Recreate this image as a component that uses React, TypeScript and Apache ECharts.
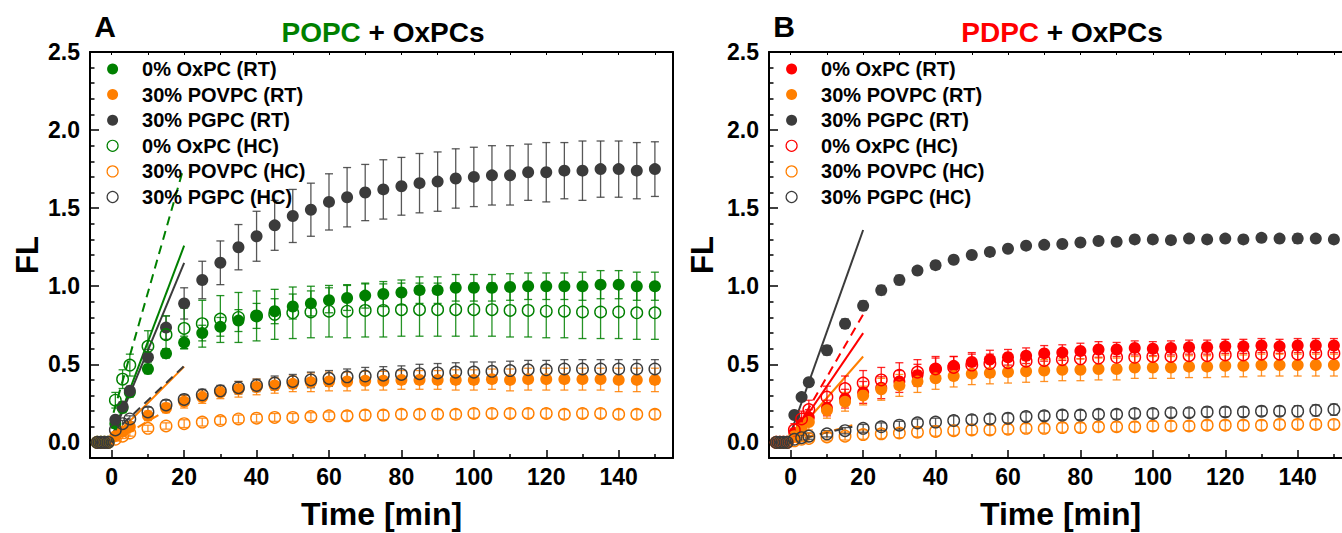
import React, { useEffect, useRef } from 'react';
import * as echarts from 'echarts';

// ---------- data ----------
const BASE_T = [-4, -3, -2, -1];
const TIME = [1, 3, 5, 10, 15, 20, 25, 30, 35, 40, 45, 50, 55, 60, 65, 70, 75, 80, 85, 90, 95, 100, 105, 110, 115, 120, 125, 130, 135, 140, 145, 150];
const X_MAJOR = [0, 20, 40, 60, 80, 100, 120, 140];
const X_MINOR = [10, 30, 50, 70, 90, 110, 130, 150];
const X_TOP = [0, 10, 20, 30, 40, 50, 60, 70, 80, 90, 100, 110, 120, 130, 140, 150];
const Y_MAJOR = [0, 0.5, 1.0, 1.5, 2.0, 2.5];
const Y_MINOR = [0.1, 0.2, 0.3, 0.4, 0.6, 0.7, 0.8, 0.9, 1.1, 1.2, 1.3, 1.4, 1.6, 1.7, 1.8, 1.9, 2.1, 2.2, 2.3, 2.4];
const LEGEND_NAMES = ['0% OxPC (RT)', '30% POVPC (RT)', '30% PGPC (RT)', '0% OxPC (HC)', '30% POVPC (HC)', '30% PGPC (HC)'];

// Panel A: POPC + OxPCs
const A_OX_RT = [0.12, 0.22, 0.32, 0.47, 0.57, 0.64, 0.70, 0.74, 0.78, 0.81, 0.84, 0.87, 0.89, 0.91, 0.925, 0.94, 0.95, 0.96, 0.975, 0.975, 0.99, 0.99, 0.99, 0.995, 1.0, 1.0, 1.0, 1.0, 1.01, 1.01, 1.0, 1.0];
const A_OX_RT_ERR = [0.03, 0.03, 0.03, 0.03, 0.03, 0.04, 0.05, 0.06, 0.07, 0.08, 0.08, 0.08, 0.08, 0.08, 0.08, 0.08, 0.08, 0.08, 0.085, 0.085, 0.085, 0.085, 0.085, 0.085, 0.085, 0.085, 0.085, 0.09, 0.09, 0.09, 0.09, 0.09];
const A_POV_RT = [0.04, 0.07, 0.10, 0.17, 0.22, 0.26, 0.29, 0.32, 0.34, 0.355, 0.365, 0.375, 0.385, 0.39, 0.39, 0.395, 0.395, 0.40, 0.40, 0.40, 0.40, 0.40, 0.405, 0.40, 0.405, 0.405, 0.405, 0.405, 0.405, 0.40, 0.40, 0.40];
const A_POV_RT_ERR = [0.02, 0.02, 0.03, 0.03, 0.03, 0.04, 0.04, 0.04, 0.05, 0.05, 0.05, 0.05, 0.06, 0.06, 0.06, 0.06, 0.06, 0.06, 0.06, 0.06, 0.065, 0.065, 0.065, 0.07, 0.07, 0.07, 0.07, 0.07, 0.07, 0.075, 0.075, 0.075];
const A_PG_RT = [0.145, 0.23, 0.33, 0.545, 0.735, 0.89, 1.04, 1.15, 1.25, 1.32, 1.39, 1.45, 1.49, 1.54, 1.57, 1.60, 1.62, 1.64, 1.66, 1.67, 1.69, 1.70, 1.71, 1.71, 1.73, 1.73, 1.74, 1.74, 1.75, 1.75, 1.74, 1.75];
const A_PG_RT_ERR = [0.02, 0.03, 0.03, 0.05, 0.075, 0.10, 0.12, 0.14, 0.145, 0.16, 0.16, 0.17, 0.17, 0.18, 0.19, 0.18, 0.19, 0.185, 0.19, 0.19, 0.19, 0.19, 0.19, 0.19, 0.18, 0.19, 0.18, 0.19, 0.18, 0.18, 0.18, 0.175];
const A_OX_HC = [0.27, 0.405, 0.495, 0.615, 0.69, 0.73, 0.76, 0.79, 0.80, 0.81, 0.82, 0.83, 0.835, 0.84, 0.84, 0.845, 0.845, 0.85, 0.85, 0.85, 0.85, 0.85, 0.85, 0.845, 0.845, 0.84, 0.84, 0.835, 0.835, 0.835, 0.83, 0.83];
const A_OX_HC_ERR = [0.05, 0.06, 0.07, 0.10, 0.12, 0.13, 0.15, 0.15, 0.16, 0.16, 0.16, 0.165, 0.165, 0.165, 0.17, 0.17, 0.17, 0.17, 0.17, 0.17, 0.17, 0.17, 0.17, 0.17, 0.17, 0.17, 0.17, 0.17, 0.17, 0.17, 0.17, 0.17];
const A_POV_HC = [0.02, 0.04, 0.06, 0.09, 0.105, 0.12, 0.13, 0.14, 0.15, 0.155, 0.16, 0.16, 0.165, 0.17, 0.17, 0.175, 0.175, 0.18, 0.18, 0.18, 0.18, 0.185, 0.185, 0.185, 0.185, 0.185, 0.18, 0.185, 0.185, 0.18, 0.18, 0.18];
const A_POV_HC_ERR = [0.01, 0.015, 0.02, 0.02, 0.02, 0.025, 0.025, 0.025, 0.025, 0.025, 0.025, 0.025, 0.025, 0.025, 0.03, 0.03, 0.03, 0.03, 0.03, 0.03, 0.03, 0.03, 0.03, 0.03, 0.03, 0.03, 0.03, 0.03, 0.03, 0.03, 0.03, 0.03];
const A_PG_HC = [0.08, 0.12, 0.15, 0.195, 0.24, 0.275, 0.305, 0.33, 0.35, 0.365, 0.38, 0.39, 0.40, 0.41, 0.42, 0.425, 0.43, 0.435, 0.44, 0.445, 0.45, 0.45, 0.455, 0.46, 0.465, 0.465, 0.47, 0.47, 0.47, 0.47, 0.47, 0.47];
const A_PG_HC_ERR = [0.02, 0.02, 0.02, 0.03, 0.03, 0.03, 0.035, 0.035, 0.04, 0.04, 0.045, 0.045, 0.05, 0.05, 0.05, 0.055, 0.055, 0.055, 0.06, 0.06, 0.06, 0.065, 0.06, 0.06, 0.06, 0.06, 0.06, 0.06, 0.06, 0.06, 0.06, 0.06];

// Panel B: PDPC + OxPCs
const B_OX_RT = [0.06, 0.12, 0.16, 0.22, 0.28, 0.32, 0.35, 0.39, 0.43, 0.47, 0.49, 0.515, 0.53, 0.545, 0.555, 0.57, 0.575, 0.585, 0.595, 0.595, 0.605, 0.60, 0.605, 0.61, 0.61, 0.615, 0.615, 0.62, 0.615, 0.62, 0.62, 0.62];
const B_OX_RT_ERR = [0.03, 0.04, 0.05, 0.05, 0.06, 0.07, 0.07, 0.07, 0.07, 0.07, 0.06, 0.06, 0.06, 0.05, 0.05, 0.05, 0.05, 0.05, 0.05, 0.045, 0.045, 0.045, 0.045, 0.045, 0.045, 0.045, 0.045, 0.045, 0.045, 0.045, 0.045, 0.045];
const B_POV_RT = [0.04, 0.09, 0.13, 0.205, 0.26, 0.30, 0.34, 0.365, 0.39, 0.41, 0.425, 0.44, 0.445, 0.45, 0.455, 0.46, 0.465, 0.465, 0.47, 0.47, 0.48, 0.48, 0.48, 0.485, 0.485, 0.49, 0.49, 0.495, 0.495, 0.495, 0.495, 0.495];
const B_POV_RT_ERR = [0.03, 0.04, 0.05, 0.05, 0.06, 0.06, 0.07, 0.07, 0.07, 0.07, 0.07, 0.07, 0.07, 0.07, 0.07, 0.07, 0.07, 0.07, 0.07, 0.07, 0.07, 0.07, 0.07, 0.07, 0.07, 0.07, 0.07, 0.07, 0.07, 0.07, 0.07, 0.07];
const B_PG_RT = [0.175, 0.29, 0.385, 0.59, 0.76, 0.875, 0.975, 1.04, 1.10, 1.135, 1.17, 1.20, 1.22, 1.24, 1.26, 1.265, 1.27, 1.28, 1.29, 1.285, 1.30, 1.30, 1.295, 1.305, 1.30, 1.305, 1.30, 1.31, 1.305, 1.305, 1.305, 1.30];
const B_PG_RT_ERR = [0.02, 0.02, 0.02, 0.03, 0.03, 0.03, 0.03, 0.03, 0.025, 0.025, 0.025, 0.02, 0.02, 0.02, 0.02, 0.02, 0.02, 0.025, 0.025, 0.025, 0.025, 0.025, 0.025, 0.025, 0.025, 0.025, 0.025, 0.025, 0.025, 0.03, 0.025, 0.025];
const B_OX_HC = [0.08, 0.15, 0.21, 0.29, 0.345, 0.38, 0.40, 0.43, 0.45, 0.47, 0.48, 0.495, 0.505, 0.51, 0.52, 0.525, 0.53, 0.535, 0.54, 0.545, 0.545, 0.55, 0.55, 0.555, 0.555, 0.56, 0.56, 0.565, 0.565, 0.565, 0.57, 0.57];
const B_OX_HC_ERR = [0.04, 0.05, 0.06, 0.07, 0.08, 0.08, 0.08, 0.08, 0.08, 0.08, 0.07, 0.07, 0.06, 0.06, 0.06, 0.05, 0.05, 0.05, 0.05, 0.05, 0.05, 0.05, 0.05, 0.05, 0.05, 0.05, 0.05, 0.05, 0.05, 0.05, 0.05, 0.05];
const B_POV_HC = [0.01, 0.02, 0.025, 0.035, 0.04, 0.05, 0.055, 0.06, 0.065, 0.07, 0.075, 0.08, 0.08, 0.085, 0.09, 0.09, 0.095, 0.095, 0.10, 0.10, 0.10, 0.105, 0.105, 0.105, 0.11, 0.11, 0.11, 0.11, 0.115, 0.115, 0.115, 0.115];
const B_POV_HC_ERR = [0.01, 0.015, 0.02, 0.025, 0.025, 0.03, 0.03, 0.03, 0.03, 0.03, 0.03, 0.03, 0.03, 0.03, 0.03, 0.03, 0.03, 0.03, 0.03, 0.03, 0.03, 0.03, 0.03, 0.03, 0.03, 0.03, 0.03, 0.03, 0.03, 0.03, 0.03, 0.03];
const B_PG_HC = [0.02, 0.03, 0.04, 0.055, 0.075, 0.09, 0.10, 0.11, 0.125, 0.13, 0.14, 0.145, 0.15, 0.155, 0.165, 0.17, 0.175, 0.175, 0.18, 0.18, 0.185, 0.185, 0.19, 0.19, 0.195, 0.195, 0.195, 0.20, 0.20, 0.20, 0.205, 0.21];
const B_PG_HC_ERR = [0.01, 0.015, 0.02, 0.02, 0.02, 0.025, 0.025, 0.025, 0.025, 0.025, 0.03, 0.03, 0.03, 0.03, 0.03, 0.03, 0.03, 0.03, 0.03, 0.03, 0.03, 0.03, 0.03, 0.03, 0.03, 0.03, 0.03, 0.03, 0.03, 0.035, 0.035, 0.035];

// Initial-rate fit lines: [[t0, FL0], [t1, FL1]]
const FIT_A_OX_RT = [[0, 0.03], [20, 1.26]];
const FIT_A_POV_RT = [[0, 0.02], [20, 0.485]];
const FIT_A_PG_RT = [[0, 0.03], [20, 1.15]];
const FIT_A_OX_HC = [[0.5, 0.19], [19.5, 1.73]];
const FIT_A_POV_HC = [[0, 0.0], [17, 0.23]];
const FIT_A_PG_HC = [[0, 0.05], [20, 0.49]];
const FIT_B_OX_RT = [[0, 0.02], [20, 0.70]];
const FIT_B_POV_RT = [[0, 0.02], [20, 0.55]];
const FIT_B_PG_RT = [[0, 0.06], [20, 1.36]];
const FIT_B_OX_HC = [[0, 0.02], [20, 0.82]];
const FIT_B_POV_HC = [[0, 0.0], [17, 0.11]];
const FIT_B_PG_HC = [[0, 0.01], [17, 0.10]];

// ---------- styles ----------
const GREEN = '#008000';
const ORANGE = '#ff7f00';
const DARK = '#3b3b3b';
const RED = '#ff0000';
const FONT = '"Liberation Sans", Arial, Helvetica, sans-serif';

const GRID_W = 583;
const GRID_H = 406;
const GRID_TOP = 52;
const PANELS = [
  {
    left: 90,
    colors: [GREEN, ORANGE, DARK, GREEN, ORANGE, DARK],
    values: [A_OX_RT, A_POV_RT, A_PG_RT, A_OX_HC, A_POV_HC, A_PG_HC],
    errors: [A_OX_RT_ERR, A_POV_RT_ERR, A_PG_RT_ERR, A_OX_HC_ERR, A_POV_HC_ERR, A_PG_HC_ERR],
    fits: [FIT_A_OX_RT, FIT_A_POV_RT, FIT_A_PG_RT, FIT_A_OX_HC, FIT_A_POV_HC, FIT_A_PG_HC],
    nameGap: 47,
  },
  {
    left: 769,
    colors: [RED, ORANGE, DARK, RED, ORANGE, DARK],
    values: [B_OX_RT, B_POV_RT, B_PG_RT, B_OX_HC, B_POV_HC, B_PG_HC],
    errors: [B_OX_RT_ERR, B_POV_RT_ERR, B_PG_RT_ERR, B_OX_HC_ERR, B_POV_HC_ERR, B_PG_HC_ERR],
    fits: [FIT_B_OX_RT, FIT_B_POV_RT, FIT_B_PG_RT, FIT_B_OX_HC, FIT_B_POV_HC, FIT_B_PG_HC],
    nameGap: 51,
  },
];

function buildOption() {
  const grid: any[] = [];
  const xAxis: any[] = [];
  const yAxis: any[] = [];
  const series: any[] = [];
  const legend: any[] = [];

  const axisLine = { show: true, onZero: false, lineStyle: { color: '#000', width: 2 } };
  const tickStyle = { color: '#000', width: 1.5 };
  const labelStyle = { color: '#000', fontSize: 23, fontWeight: 'bold', fontFamily: FONT };

  PANELS.forEach((p, pi) => {
    grid.push({ left: p.left, top: GRID_TOP, width: GRID_W, height: GRID_H, outerBoundsMode: 'none', containLabel: false });
    const xBase = xAxis.length;
    const yBase = yAxis.length;
    // bottom major
    xAxis.push({
      type: 'value', gridIndex: pi, min: -6, max: 155, position: 'bottom',
      axisLine, splitLine: { show: false },
      axisTick: { show: true, inside: true, length: 8, customValues: X_MAJOR, lineStyle: tickStyle },
      axisLabel: { show: true, customValues: X_MAJOR, margin: 7, ...labelStyle },
      name: 'Time [min]', nameLocation: 'middle', nameGap: 40,
      nameTextStyle: { color: '#000', fontSize: 32, fontWeight: 'bold', fontFamily: FONT },
    });
    // bottom minor
    xAxis.push({
      type: 'value', gridIndex: pi, min: -6, max: 155, position: 'bottom',
      axisLine: { show: false, onZero: false }, splitLine: { show: false },
      axisTick: { show: true, inside: true, length: 4, customValues: X_MINOR, lineStyle: tickStyle },
      axisLabel: { show: false },
    });
    // top
    xAxis.push({
      type: 'value', gridIndex: pi, min: -6, max: 155, position: 'top',
      axisLine, splitLine: { show: false },
      axisTick: { show: true, inside: true, length: 3, customValues: X_TOP, lineStyle: { color: '#000', width: 1 } },
      axisLabel: { show: false },
    });
    // left major
    yAxis.push({
      type: 'value', gridIndex: pi, min: -0.1, max: 2.5, position: 'left',
      axisLine, splitLine: { show: false },
      axisTick: { show: true, inside: true, length: 9, customValues: Y_MAJOR, lineStyle: tickStyle },
      axisLabel: { show: true, customValues: Y_MAJOR, margin: 10, formatter: (v: number) => v.toFixed(1), ...labelStyle },
      name: 'FL', nameLocation: 'middle', nameGap: p.nameGap, nameRotate: 90,
      nameTextStyle: { color: '#000', fontSize: 31, fontWeight: 'bold', fontFamily: FONT },
    });
    // left minor
    yAxis.push({
      type: 'value', gridIndex: pi, min: -0.1, max: 2.5, position: 'left',
      axisLine: { show: false, onZero: false }, splitLine: { show: false },
      axisTick: { show: true, inside: true, length: 4.5, customValues: Y_MINOR, lineStyle: tickStyle },
      axisLabel: { show: false },
    });
    // right
    yAxis.push({
      type: 'value', gridIndex: pi, min: -0.1, max: 2.5, position: 'right',
      axisLine, splitLine: { show: false },
      axisTick: { show: false }, axisLabel: { show: false },
    });

    // fit lines (drawn beneath markers)
    p.fits.forEach((f, si) => {
      const dashed = si >= 3;
      series.push({
        type: 'line', name: `fit-${pi}-${si}`, xAxisIndex: xBase, yAxisIndex: yBase,
        data: f, showSymbol: false, symbol: 'none', silent: true, z: 1,
        lineStyle: { color: p.colors[si], width: 2, type: dashed ? [9, 6] : 'solid' },
      });
    });

    // error bars + markers
    p.values.forEach((vals, si) => {
      const color = p.colors[si];
      const errs = p.errors[si];
      const filled = si < 3;
      const errData: number[][] = [];
      BASE_T.forEach((t) => errData.push([t, -0.012, 0.012]));
      TIME.forEach((t, i) => errData.push([t, vals[i] - errs[i], vals[i] + errs[i]]));
      series.push({
        type: 'custom', name: `err-${pi}-${si}`, xAxisIndex: xBase, yAxisIndex: yBase,
        data: errData, silent: true, z: 2,
        encode: { x: 0, y: [1, 2] },
        renderItem: (params: any, api: any) => {
          const x = api.value(0);
          const a = api.coord([x, api.value(1)]);
          const b = api.coord([x, api.value(2)]);
          const w = 4;
          const style = { stroke: color, lineWidth: 1.3, opacity: 0.85 };
          return {
            type: 'group',
            children: [
              { type: 'line', shape: { x1: a[0], y1: a[1], x2: b[0], y2: b[1] }, style },
              { type: 'line', shape: { x1: a[0] - w, y1: a[1], x2: a[0] + w, y2: a[1] }, style },
              { type: 'line', shape: { x1: b[0] - w, y1: b[1], x2: b[0] + w, y2: b[1] }, style },
            ],
          };
        },
      });
      const pts: number[][] = [];
      BASE_T.forEach((t) => pts.push([t, 0]));
      TIME.forEach((t, i) => pts.push([t, vals[i]]));
      series.push({
        type: 'scatter', name: LEGEND_NAMES[si], xAxisIndex: xBase, yAxisIndex: yBase,
        data: pts, symbol: 'circle', symbolSize: filled ? 12 : 11.5, z: 3,
        itemStyle: filled
          ? { color, borderWidth: 0, opacity: 1 }
          : { color: 'rgba(255,255,255,0)', borderColor: color, borderWidth: 1.4, opacity: 1 },
      });
    });

    legend.push({
      orient: 'vertical', left: p.left + 16.5, top: 59, padding: 0,
      itemWidth: 49, itemHeight: 11, itemGap: 5.6, selectedMode: false,
      symbolKeepAspect: true,
      textStyle: { color: '#000', fontSize: 20, fontWeight: 'bold', fontFamily: FONT, lineHeight: 20 },
      data: LEGEND_NAMES.map((n, si) => ({
        name: n, icon: 'circle',
        itemStyle: si < 3
          ? { color: p.colors[si], borderWidth: 0 }
          : { color: '#ffffff', borderColor: p.colors[si], borderWidth: 1.2 },
      })),
    });
  });

  const titleText = (x: number, label: string, lipid: string, color: string) => [
    {
      type: 'text', x: x + 15, y: 26,
      style: { text: label, font: `bold 30px ${FONT}`, fill: '#000', align: 'center', verticalAlign: 'middle' },
    },
    {
      type: 'text', x: x + 293, y: 32,
      style: {
        text: `{c|${lipid}} + OxPCs`, font: `bold 28px ${FONT}`, fill: '#000',
        align: 'center', verticalAlign: 'middle',
        rich: { c: { fill: color, font: `bold 28px ${FONT}` } },
      },
    },
  ];

  return {
    animation: false,
    backgroundColor: '#ffffff',
    grid, xAxis, yAxis, series, legend,
    graphic: [...titleText(90, 'A', 'POPC', GREEN), ...titleText(769, 'B', 'PDPC', RED)],
  };
}

export default function App() {
  const ref = useRef<HTMLDivElement>(null);
  useEffect(() => {
    if (!ref.current) return;
    document.body.style.margin = '0';
    document.body.style.overflow = 'hidden';
    const chart = echarts.init(ref.current, undefined, { renderer: 'svg' });
    chart.setOption(buildOption() as any);
    return () => chart.dispose();
  }, []);
  return (
    <div
      ref={ref}
      style={{ position: 'fixed', left: 0, top: 0, width: 1360, height: 533, background: '#fff' }}
    />
  );
}
